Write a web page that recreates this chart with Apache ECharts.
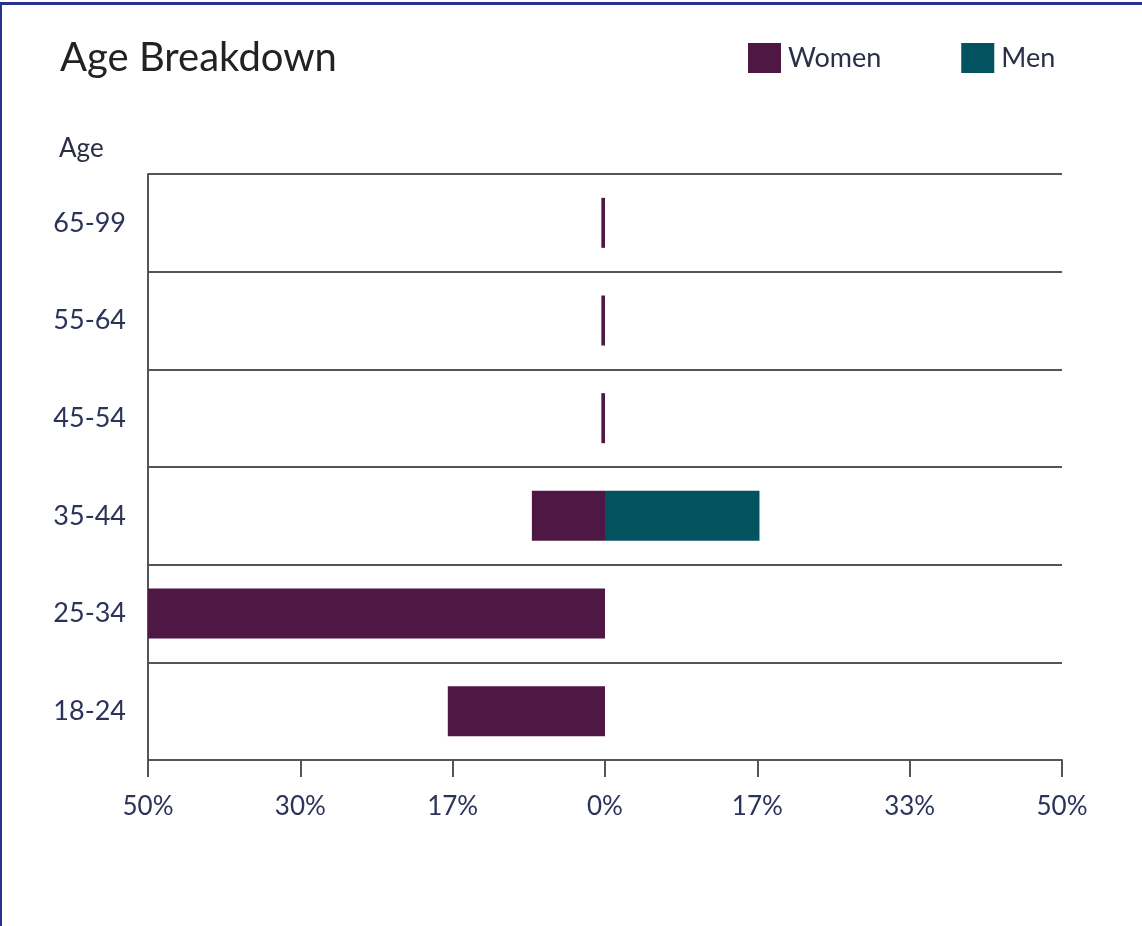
<!DOCTYPE html>
<html>
<head>
<meta charset="utf-8">
<title>Age Breakdown</title>
<script src="https://cdn.jsdelivr.net/npm/echarts@6/dist/echarts.min.js"></script>
<style>
  html, body { margin: 0; padding: 0; background: #fff; }
  #chart {
    width: 1140px;
    height: 921px;
    border-top: 3px solid #27338f;
    border-left: 2px solid #27338f;
    margin-top: 2px;
  }
</style>
</head>
<body>
<div id="chart"></div>
<script>
// age groups, bottom to top
const ageGroups = ['18-24', '25-34', '35-44', '45-54', '55-64', '65-99']
// share in %, women drawn to the left
const women = [17.2, 50, 8.0, 0.4, 0.4, 0.4]
const men = [0, 0, 16.9, 0, 0, 0]
const xTickLabels = ['50%', '30%', '17%', '0%', '17%', '33%', '50%']

const font = 'Lato, "Noto Sans", sans-serif'
const chart = echarts.init(document.getElementById('chart'))

const option = {
  animation: false,
  textStyle: { fontFamily: font },
  title: [
    {
      text: 'Age Breakdown',
      left: 53,
      top: 28,
      textStyle: { fontSize: 40, fontWeight: 'normal', color: '#222', fontFamily: font },
    },
    {
      text: 'Age',
      left: 52,
      top: 126,
      textStyle: { fontSize: 26, fontWeight: 'normal', color: '#2a2f45', fontFamily: font },
    },
  ],
  legend: {
    left: 741,
    top: 33,
    itemWidth: 33,
    itemHeight: 30,
    itemGap: 80,
    icon: 'rect',
    textStyle: { fontSize: 27, color: '#2a2f45', fontFamily: font, padding: [0, 0, 0, 2] },
    data: ['Women', 'Men'],
  },
  grid: {
    left: 146,
    right: 80,
    top: 169,
    bottom: 166,
  },
  xAxis: {
    type: 'value',
    min: -50,
    max: 50,
    interval: 50 / 3,
    axisLine: { show: true, lineStyle: { color: '#555', width: 2 } },
    axisTick: { show: true, length: 17, lineStyle: { color: '#555', width: 2 } },
    splitLine: { show: false },
    axisLabel: {
      fontSize: 26,
      color: '#2b3358',
      margin: 34,
      fontFamily: font,
      formatter: (v) => xTickLabels[Math.round((v + 50) / (50 / 3))],
    },
  },
  yAxis: {
    type: 'category',
    data: ageGroups,
    axisLine: { show: true, onZero: false, lineStyle: { color: '#555', width: 2 } },
    axisTick: { show: false },
    splitLine: { show: true, lineStyle: { color: '#555', width: 2 } },
    axisLabel: { fontSize: 27, color: '#2b3358', margin: 22, fontFamily: font },
  },
  color: ['#4f1744', '#02535f'],
  series: [
    {
      name: 'Women',
      type: 'bar',
      barWidth: 50,
      barGap: '-100%',
      data: women.map((v) => -v),
    },
    {
      name: 'Men',
      type: 'bar',
      barWidth: 50,
      data: men,
    },
  ],
}

chart.setOption(option)
</script>
</body>
</html>
